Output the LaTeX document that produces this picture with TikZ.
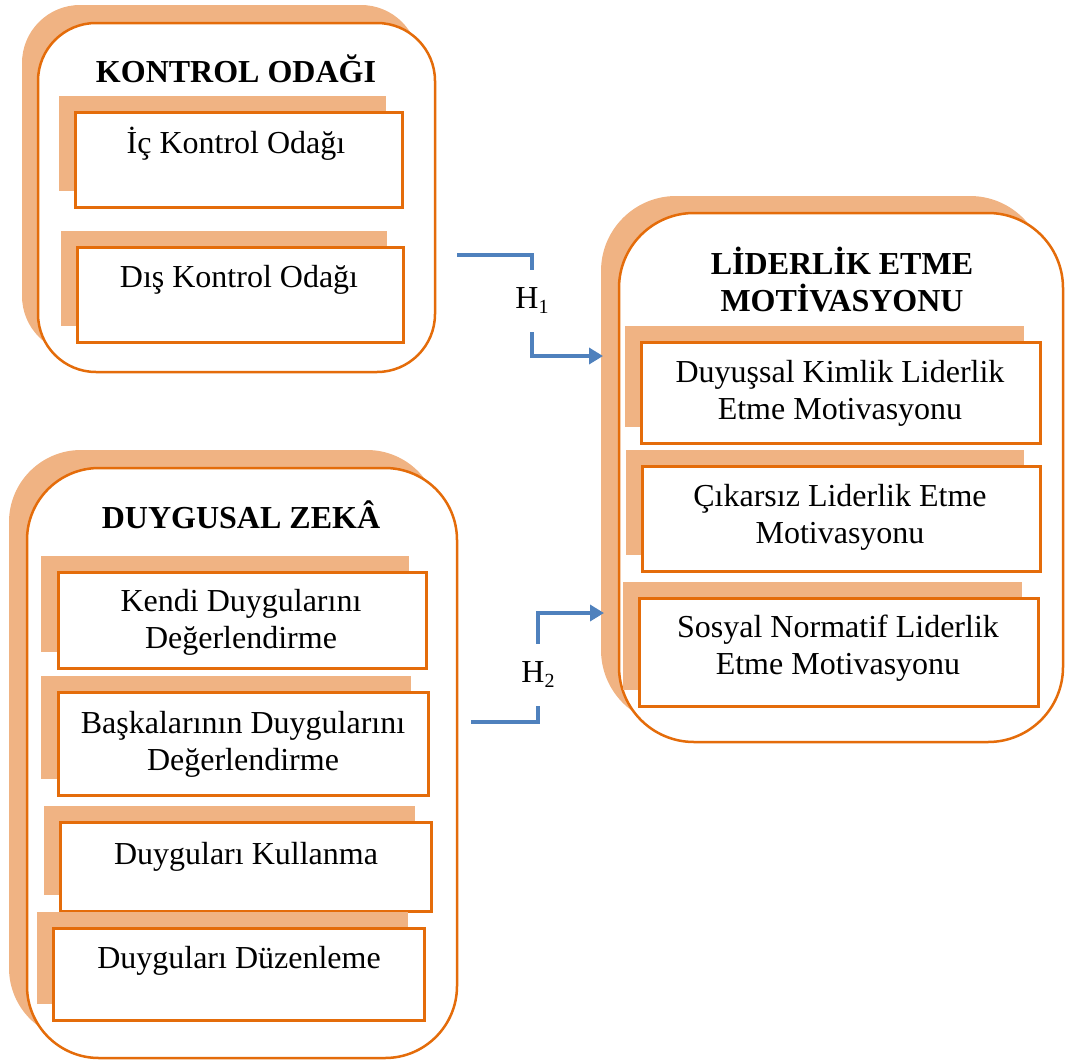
\documentclass[tikz,border=0pt]{standalone}
\usepackage{fontspec}
\setmainfont{Liberation Serif}
\usetikzlibrary{arrows.meta}
\definecolor{shade}{HTML}{F0B383}
\definecolor{edge}{HTML}{E46C0A}
\definecolor{link}{HTML}{4F81BD}
\newcommand\myfs{\fontsize{32}{37}\selectfont}
\newcommand\mysub[1]{\raisebox{-5pt}{\fontsize{20}{20}\selectfont #1}}
\begin{document}
\begin{tikzpicture}[x=1pt,y=-1pt,
  panelshade/.style={fill=shade, draw=none, inner sep=0pt, outer sep=0pt},
  panel/.style={fill=white, draw=edge, line width=2.5pt, inner sep=0pt, outer sep=0pt},
  itemshade/.style={fill=shade, draw=none, inner sep=0pt, outer sep=0pt},
  item/.style={fill=white, draw=edge, line width=3pt, inner sep=0pt, outer sep=0pt},
  titletext/.style={font=\myfs\bfseries, align=center, anchor=base, inner sep=0pt},
  itemtext/.style={font=\myfs, align=center, anchor=base, inner sep=0pt},
  hyp/.style={font=\myfs, minimum width=87pt, minimum height=62pt, inner sep=0pt},
  conn/.style={draw=link, line width=3.5pt, -{Triangle[length=14pt,width=16pt]}}
]
\useasboundingbox (0,0) rectangle (1065,1060);

% ---------- KONTROL ODAGI ----------
\node[panelshade, rounded corners=58pt, minimum width=397pt, minimum height=349pt] (kosh) at (220.5,179.5) {};
\node[panel, rounded corners=58pt, minimum width=397pt, minimum height=349pt] (ko) at (236.5,197.5) {};
\node[titletext] (kot) at (236,82) {KONTROL ODAĞI};
\node[itemshade, minimum width=327pt, minimum height=95pt] (icsh) at (222,143) {};
\node[item, minimum width=327pt, minimum height=95pt] (ic) at (238.5,159.5) {};
\node[itemtext] (ict) at (236,153) {İç Kontrol Odağı};
\node[itemshade, minimum width=326pt, minimum height=95pt] (dissh) at (224,278) {};
\node[item, minimum width=326pt, minimum height=95pt] (dis) at (240,294.5) {};
\node[itemtext] (dist) at (239,287) {Dış Kontrol Odağı};

% ---------- LIDERLIK ETME MOTIVASYONU ----------
\node[panelshade, rounded corners=75pt, minimum width=444pt, minimum height=529pt] (lemsh) at (823,460.5) {};
\node[panel, rounded corners=75pt, minimum width=444pt, minimum height=529pt] (lem) at (841,477.5) {};
\node[titletext] (lemt) at (842,311) {LİDERLİK ETME\\MOTİVASYONU};
\node[itemshade, minimum width=399pt, minimum height=101pt] (duysh) at (824,376) {};
\node[item, minimum width=399pt, minimum height=101pt] (duy) at (840.5,392.5) {};
\node[itemtext] (duyt) at (840,419.5) {Duyuşsal Kimlik Liderlik\\Etme Motivasyonu};
\node[itemshade, minimum width=398pt, minimum height=105pt] (ciksh) at (825,502) {};
\node[item, minimum width=398pt, minimum height=105pt] (cik) at (841,518.5) {};
\node[itemtext] (cikt) at (840,543.5) {Çıkarsız Liderlik Etme\\Motivasyonu};
\node[itemshade, minimum width=399pt, minimum height=108pt] (sossh) at (822,635.5) {};
\node[item, minimum width=399pt, minimum height=108pt] (sos) at (838.5,652) {};
\node[itemtext] (sost) at (838,674.5) {Sosyal Normatif Liderlik\\Etme Motivasyonu};

% ---------- DUYGUSAL ZEKA ----------
\node[panelshade, rounded corners=72pt, minimum width=430pt, minimum height=590pt] (dzsh) at (224,745) {};
\node[panel, rounded corners=72pt, minimum width=430pt, minimum height=590pt] (dz) at (242,763) {};
\node[titletext] (dzt) at (241,528) {DUYGUSAL ZEKÂ};
\node[itemshade, minimum width=368pt, minimum height=96pt] (kensh) at (225,603.5) {};
\node[item, minimum width=368pt, minimum height=96pt] (ken) at (242,620) {};
\node[itemtext] (kent) at (241,648.5) {Kendi Duygularını\\Değerlendirme};
\node[itemshade, minimum width=370pt, minimum height=103pt] (bassh) at (226,727.5) {};
\node[item, minimum width=370pt, minimum height=103pt] (bas) at (243,743.5) {};
\node[itemtext] (bast) at (243,770) {Başkalarının Duygularını\\Değerlendirme};
\node[itemshade, minimum width=371pt, minimum height=89pt] (kulsh) at (229,850.5) {};
\node[item, minimum width=371pt, minimum height=89pt] (kul) at (245.5,866.5) {};
\node[itemtext] (kult) at (246,864) {Duyguları Kullanma};
\node[itemshade, minimum width=371pt, minimum height=92pt] (duzsh) at (222,958) {};
\node[item, minimum width=371pt, minimum height=92pt] (duz) at (238.5,974) {};
\node[itemtext] (duzt) at (239,968) {Duyguları Düzenleme};

% ---------- connectors ----------
\node[hyp] (h1) at (532,301) {H\mysub{1}};
\node[hyp] (h2) at (538,675) {H\mysub{2}};
\coordinate (h1s) at (457,255);
\coordinate (h1e) at (603,356);
\coordinate (h2s) at (471,722);
\coordinate (h2e) at (604,613);
\draw[conn] (h1s) -| (h1) |- (h1e);
\draw[conn] (h2s) -| (h2) |- (h2e);
\end{tikzpicture}
\end{document}
